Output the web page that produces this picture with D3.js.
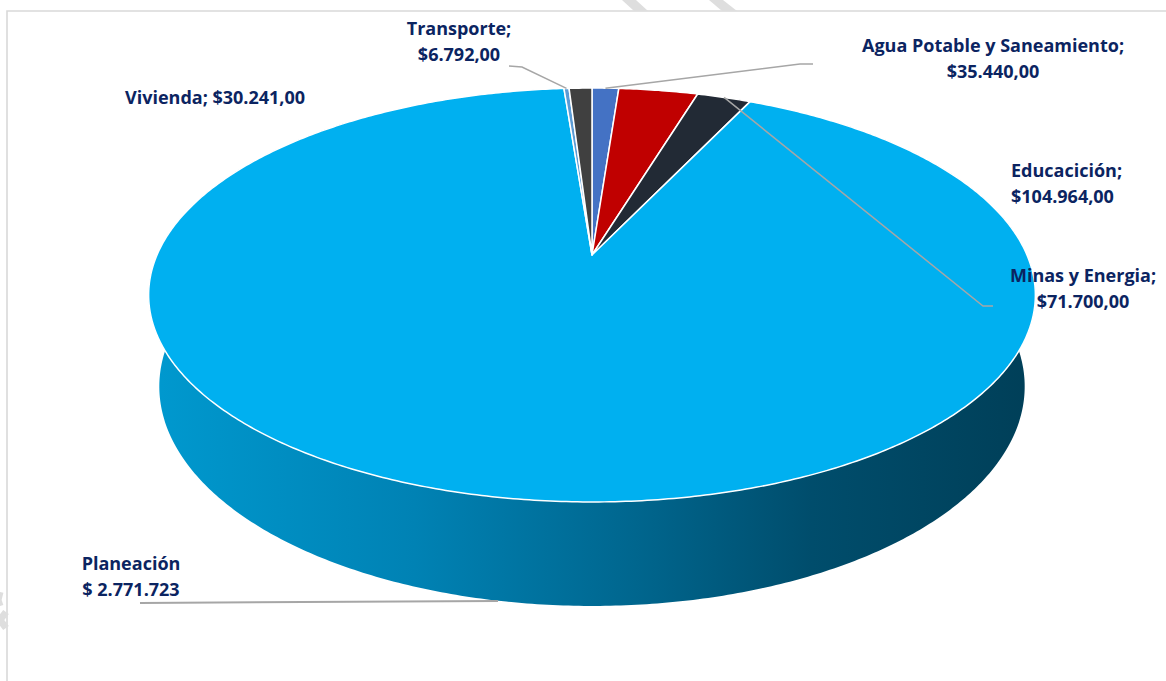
<!DOCTYPE html>
<html>
<head>
<meta charset="utf-8">
<script src="https://cdn.jsdelivr.net/npm/d3@7"></script>
<style>
  html, body { margin: 0; padding: 0; background: #ffffff; }
  svg { display: block; }
  text { font-family: "Open Sans", Lato, sans-serif; font-weight: 700; fill: #0b2461; }
</style>
</head>
<body>
<svg id="chart" width="1166" height="681"></svg>
<script>
// Budget by sector (pesos)
const categories = ["Agua Potable y Saneamiento", "Educación", "Minas y Energia", "Planeación", "Transporte", "Vivienda"];
const values = [35440, 104964, 71700, 2771723, 6792, 30241];
const colors = ["#4472c4", "#c00000", "#222a35", "#00b0f0", "#5b9bd5", "#404040"];

// Label texts per slice (two lines or one)
const labelLines = [
  ["Agua Potable y Saneamiento;", "$35.440,00"],
  ["Educacición;", "$104.964,00"],
  ["Minas y Energia;", "$71.700,00"],
  ["Planeación", "$ 2.771.723"],
  ["Transporte;", "$6.792,00"],
  ["Vivienda; $30.241,00"]
];
const labelPos = [
  {x: 993, y: 52, anchor: "middle"},
  {x: 1011, y: 177, anchor: "start"},
  {x: 1083, y: 282, anchor: "middle"},
  {x: 131, y: 570, anchor: "middle"},
  {x: 459, y: 35, anchor: "middle"},
  {x: 125, y: 104, anchor: "start"}
];

const svg = d3.select("#chart");

// Frame and light background marks
const frame = svg.append("g");
frame.append("path").attr("d", "M7,681 V11 H1166").attr("fill", "none")
  .attr("stroke", "#d9d9d9").attr("stroke-width", 1.6);
frame.append("path").attr("d", "M622,0 L636,0 L648,11 L634,11 Z").attr("fill", "#dedede");
frame.append("path").attr("d", "M709,0 L723,0 L737,11 L722,11 Z").attr("fill", "#dedede");
frame.append("path").attr("d", "M0,592 L-2,600 L0,606 M6,612 L0,620 L6,628").attr("fill", "none")
  .attr("stroke", "#dedede").attr("stroke-width", 7);

// Perspective projection of a tilted disk
const P = {cx: 592, cy: 255, f: 2001, D: 4.6, tilt: Math.asin(0.458), h: 0.2385};
const sT = Math.sin(P.tilt), cT = Math.cos(P.tilt);
function project(a, z, r = 1) {
  // a: angle clockwise from 12 o'clock (far side), z: height (0 top, -h bottom)
  const x = r * Math.sin(a), y = r * Math.cos(a);
  const d = P.D + y * cT - z * sT;
  return [P.cx + P.f * x / d, P.cy - P.f * (z * cT + y * sT) / d];
}
function arcPoints(a0, a1, z) {
  const n = Math.max(2, Math.ceil(Math.abs(a1 - a0) / 0.01));
  return d3.range(n + 1).map(i => project(a0 + (a1 - a0) * i / n, z));
}
const line = d3.line();

const pie = d3.pie().sort(null).value(d => d).startAngle(0).endAngle(2 * Math.PI);
const arcs = pie(values);

// Side gradient
const defs = svg.append("defs");
const grad = defs.append("linearGradient").attr("id", "sideGrad")
  .attr("gradientUnits", "userSpaceOnUse")
  .attr("x1", 150).attr("y1", 0).attr("x2", 1033).attr("y2", 0);
[[0, "#0099cf"], [0.3, "#0082b4"], [0.55, "#00668e"], [0.75, "#004d6c"], [1, "#003f58"]]
  .forEach(([o, c]) => grad.append("stop").attr("offset", o).attr("stop-color", c));

// Visible side wall (front half)
const a0 = 40 * Math.PI / 180, a1 = 320 * Math.PI / 180;
const sidePts = arcPoints(a0, a1, 0).concat(arcPoints(a1, a0, -P.h));
svg.append("path").attr("d", line(sidePts) + "Z").attr("fill", "url(#sideGrad)");

// Top face slices
svg.append("g").selectAll("path").data(arcs).join("path")
  .attr("d", d => {
    const pts = [project(0, 0, 0)].concat(arcPoints(d.startAngle, d.endAngle, 0));
    return line(pts) + "Z";
  })
  .attr("fill", (d, i) => colors[i])
  .attr("stroke", "#ffffff").attr("stroke-width", 1.5).attr("stroke-linejoin", "round");

// Leader lines from slice rims to labels
function rimPoint(i) {
  const a = (arcs[i].startAngle + arcs[i].endAngle) / 2;
  return project(a, 0, 1);
}
const leaders = [
  {i: 0, pts: [[813, 64], [800, 64]]},
  {i: 2, pts: [[993, 306], [983, 306]]},
  {i: 4, pts: [[509, 66], [522, 67]]}
];
const lg = svg.append("g").attr("fill", "none").attr("stroke", "#a6a6a6").attr("stroke-width", 1.5);
leaders.forEach(l => {
  const pts = l.pts.concat([rimPoint(l.i)]);
  lg.append("path").attr("d", line(pts));
});
// Planeación leader toward the front wall
lg.append("path").attr("d", line([[140, 603], [498, 601]])).attr("stroke-width", 2);

// Labels
const tg = svg.append("g");
labelLines.forEach((lines, i) => {
  const p = labelPos[i];
  const t = tg.append("text").attr("x", p.x).attr("y", p.y)
    .attr("text-anchor", p.anchor).attr("font-size", 18);
  lines.forEach((s, k) => {
    t.append("tspan").attr("x", p.x).attr("dy", k === 0 ? 0 : 26).text(s);
  });
});
</script>
</body>
</html>
